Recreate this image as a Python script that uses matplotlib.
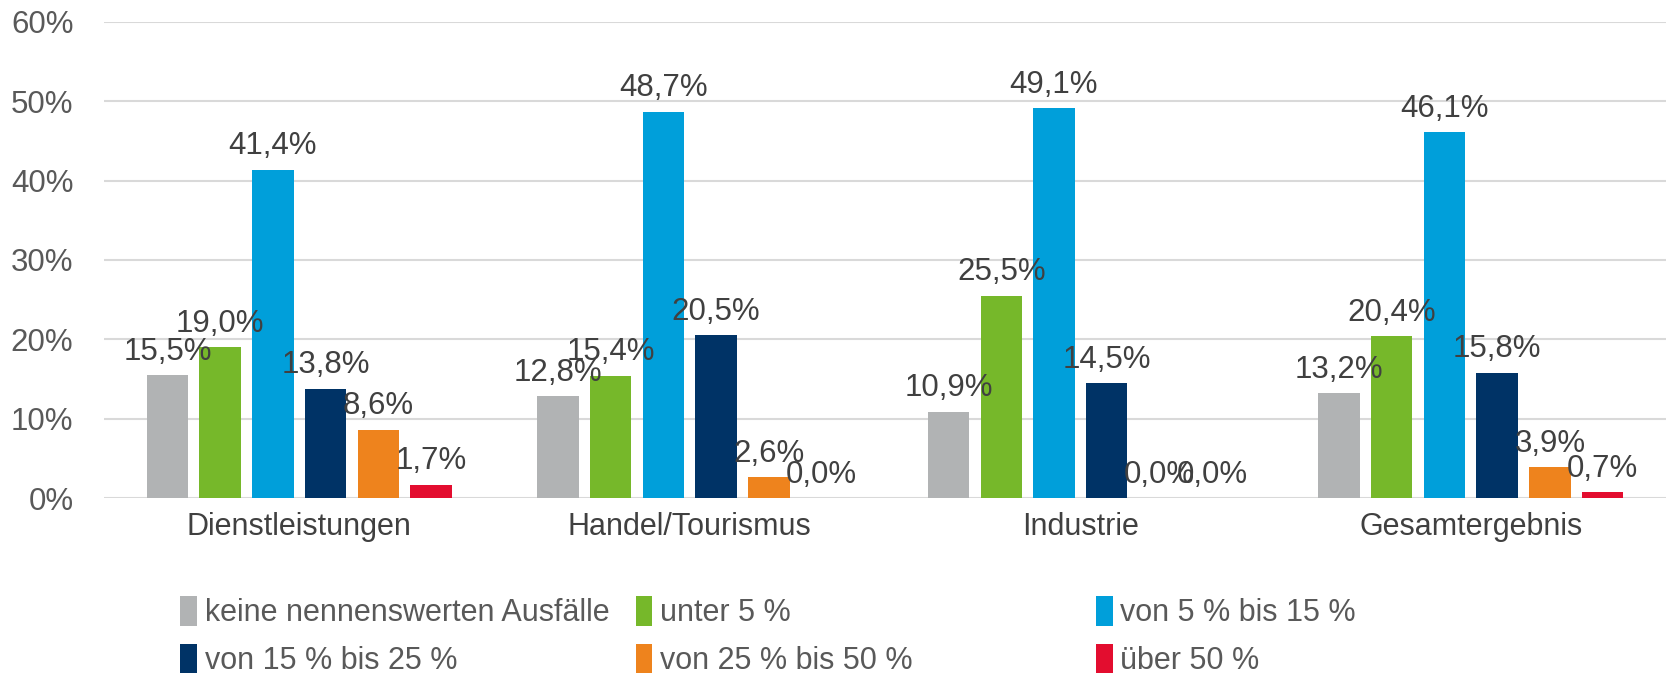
import matplotlib
matplotlib.use("Agg")
import matplotlib.pyplot as plt
import numpy as np

plt.rcParams['font.family'] = ['Liberation Sans', 'DejaVu Sans']

categories = ['Dienstleistungen', 'Handel/Tourismus', 'Industrie', 'Gesamtergebnis']
series_names = ['keine nennenswerten Ausfälle', 'unter 5 %', 'von 5 % bis 15 %',
                'von 15 % bis 25 %', 'von 25 % bis 50 %', 'über 50 %']
keine = [15.5, 12.8, 10.9, 13.2]
unter5 = [19.0, 15.4, 25.5, 20.4]
von5bis15 = [41.4, 48.7, 49.1, 46.1]
von15bis25 = [13.8, 20.5, 14.5, 15.8]
von25bis50 = [8.6, 2.6, 0.0, 3.9]
ueber50 = [1.7, 0.0, 0.0, 0.7]
y_ticks = [0, 10, 20, 30, 40, 50, 60]

series = [keine, unter5, von5bis15, von15bis25, von25bis50, ueber50]
colors = ['#B1B3B4', '#76B82A', '#009FDA', '#003366', '#EE831D', '#E30D2F']

fig = plt.figure(figsize=(16.8, 6.76), dpi=100)
ax = fig.add_axes([0.0619, 0.2633, 0.9298, 0.7042])

x = np.arange(len(categories))
slot = 0.135
width = 0.106
handles = []
for i, (vals, col) in enumerate(zip(series, colors)):
    pos = x + (i - 2.5) * slot
    b = ax.bar(pos, vals, width=width, color=col, zorder=3)
    handles.append(b)
    for px, v in zip(pos, vals):
        ax.annotate(f"{v:.1f}%".replace('.', ','), (px, v), xytext=(0, 6),
                    textcoords='offset points', ha='center', va='bottom',
                    fontsize=22.5, color='#404040', zorder=4)

ax.set_xlim(-0.5, len(categories) - 0.5)
ax.set_ylim(0, 60)
ax.set_yticks(y_ticks)
ax.set_yticklabels([f"{t}%" for t in y_ticks], fontsize=22.5, color='#595959')
ax.set_xticks(x)
ax.set_xticklabels(categories, fontsize=22, color='#404040')
ax.tick_params(axis='both', length=0)
ax.tick_params(axis='y', pad=22)
ax.tick_params(axis='x', pad=10)
ax.grid(axis='y', color='#D9D9D9', linewidth=1.5, zorder=0)
for s in ax.spines.values():
    s.set_visible(False)

# legend in three columns, row-major order
col_x = [0.100, 0.371, 0.645]
for c in range(3):
    idx = [c, c + 3]
    leg = fig.legend([handles[k] for k in idx], [series_names[k] for k in idx],
                     loc='upper left', bbox_to_anchor=(col_x[c], 0.136),
                     frameon=False, handlelength=0.55, handleheight=1.1,
                     handletextpad=0.25, labelspacing=0.5, borderaxespad=0,
                     prop={'size': 22})
    for t in leg.get_texts():
        t.set_color('#595959')

fig.savefig('out.png', dpi=100, facecolor='white')
